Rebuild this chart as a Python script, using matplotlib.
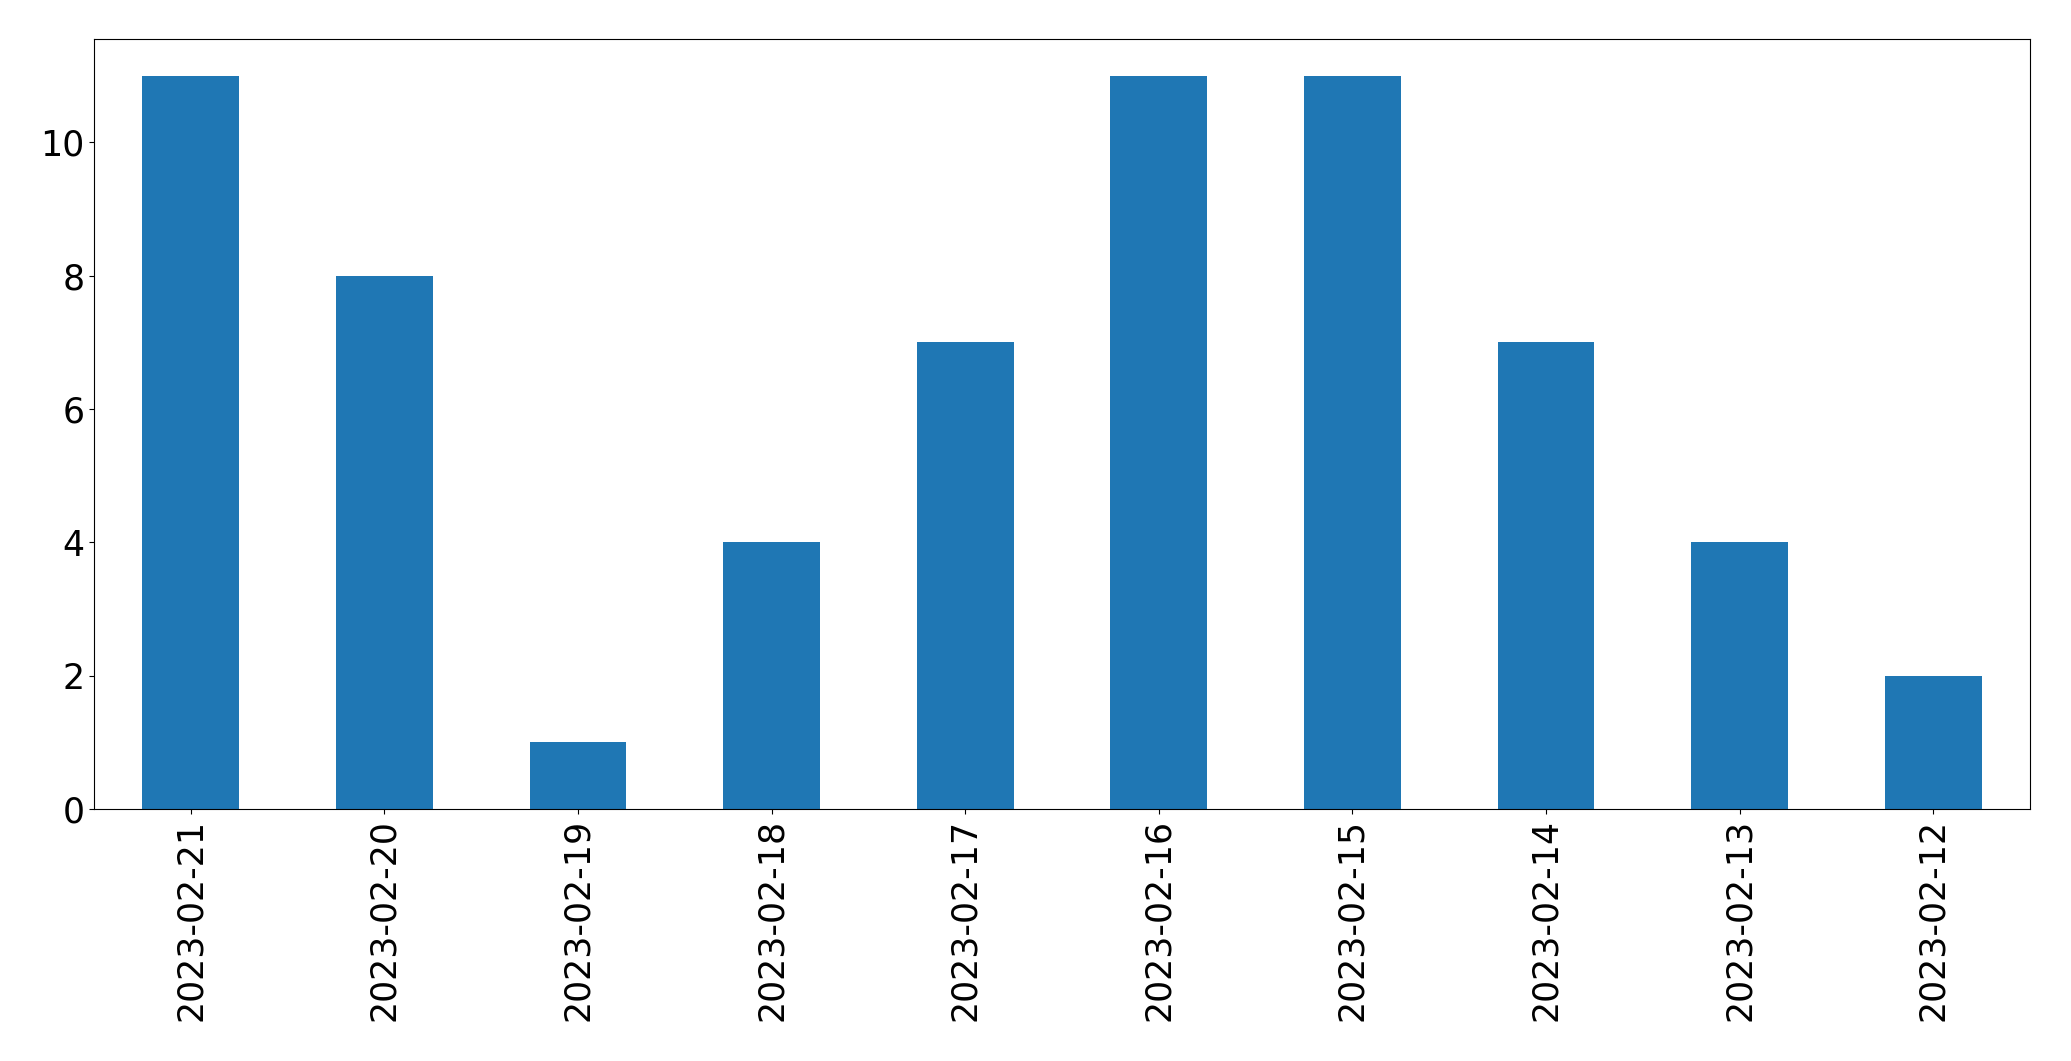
import matplotlib
matplotlib.use('Agg')
import matplotlib.pyplot as plt
import pandas as pd

# Daily counts, newest first
dates = ['2023-02-21', '2023-02-20', '2023-02-19', '2023-02-18', '2023-02-17',
         '2023-02-16', '2023-02-15', '2023-02-14', '2023-02-13', '2023-02-12']
counts = [11, 8, 1, 4, 7, 11, 11, 7, 4, 2]

s = pd.Series(counts, index=dates)

fig = plt.figure(figsize=(20.71, 10.61), dpi=100)
fig.patch.set_facecolor('white')
ax = fig.add_axes([94 / 2071, 252 / 1061, 1936 / 2071, 770 / 1061])

s.plot.bar(ax=ax, color='#1f77b4', fontsize=25)
ax.tick_params(axis='x', labelrotation=90)

plt.savefig('out.png', dpi=100, facecolor='white')
plt.close()
